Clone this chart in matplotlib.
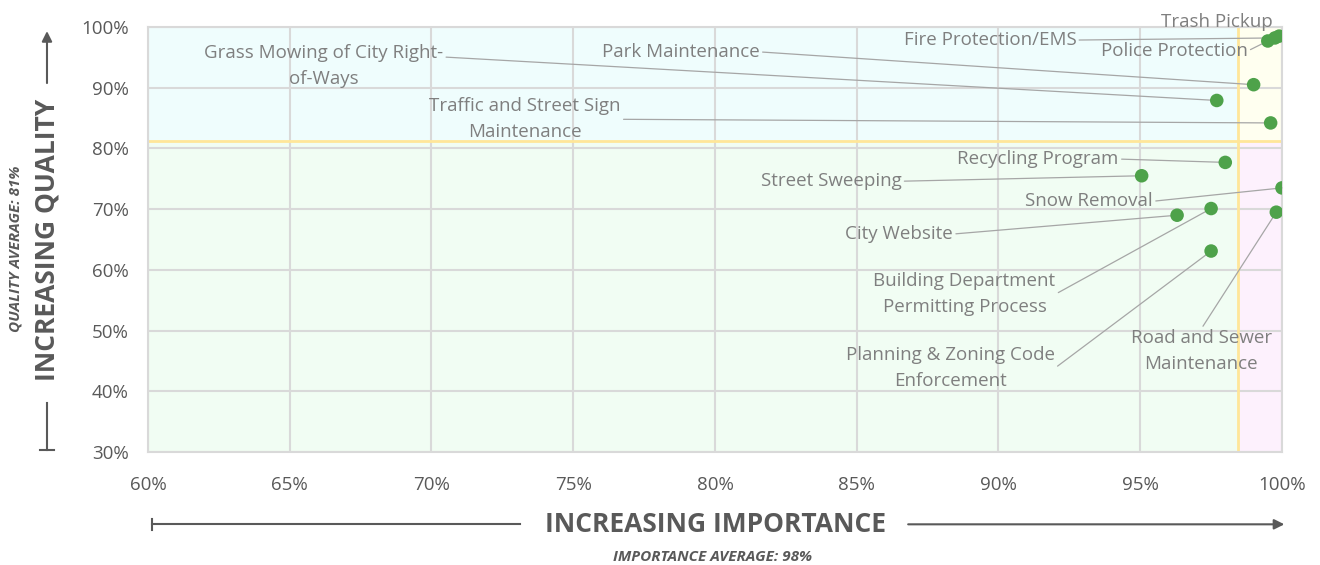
import matplotlib.pyplot as plt
from matplotlib.ticker import PercentFormatter

# data (percent)
services = ["Trash Pickup", "Fire Protection/EMS", "Police Protection", "Park Maintenance",
            "Grass Mowing of City Right-\nof-Ways", "Traffic and Street Sign\nMaintenance",
            "Recycling Program", "Street Sweeping", "Snow Removal", "City Website",
            "Building Department\nPermitting Process", "Planning & Zoning Code\nEnforcement",
            "Road and Sewer\nMaintenance"]
importance = [99.9, 99.75, 99.5, 99.0, 97.7, 99.6, 98.0, 95.05, 100.0, 96.3, 97.5, 97.5, 99.8]
quality = [98.5, 98.2, 97.7, 90.5, 87.9, 84.2, 77.7, 75.5, 73.5, 69.0, 70.1, 63.1, 69.5]

importance_avg = 98.45
quality_avg = 81.2

x_ticks = [60, 65, 70, 75, 80, 85, 90, 95, 100]
y_ticks = [30, 40, 50, 60, 70, 80, 90, 100]

# label placement (text position, attach point on text, leader line on/off)
label_pos = [(97.7, 100.8), (89.7, 97.85), (96.2, 96.05), (78.8, 95.9), (66.2, 93.6),
             (73.3, 84.8), (91.4, 78.25), (84.1, 74.6), (93.2, 71.3), (86.5, 65.9),
             (88.8, 56.0), (88.3, 43.8), (97.15, 46.6)]
label_rel = [None, (1, 0.5), (1, 0.5), (1, 0.5), (1, 0.7), (1, 0.5), (1, 0.5), (1, 0.5),
             (1, 0.5), (1, 0.5), (1, 0.5), (1, 0.5), (0.5, 1)]

plt.rcParams["font.family"] = ["Open Sans", "DejaVu Sans"]

fig = plt.figure(figsize=(13.2, 5.65), dpi=100)
ax = fig.add_axes([0.1121, 0.2, 0.8591, 0.7522])

x0, x1 = 60, 100
y0, y1 = 30, 100
ax.set_xlim(x0, x1)
ax.set_ylim(y0, y1)

# quadrant backgrounds
ax.fill_between([x0, importance_avg], quality_avg, y1, color="#effdfd", zorder=0, lw=0)
ax.fill_between([importance_avg, x1], quality_avg, y1, color="#fffff0", zorder=0, lw=0)
ax.fill_between([x0, importance_avg], y0, quality_avg, color="#f1fdf3", zorder=0, lw=0)
ax.fill_between([importance_avg, x1], y0, quality_avg, color="#fdf1fd", zorder=0, lw=0)

ax.set_xticks(x_ticks)
ax.set_yticks(y_ticks)
ax.grid(True, color="#d9d9d9", lw=1.5, zorder=1)
ax.set_axisbelow(True)
for s in ax.spines.values():
    s.set_color("#d9d9d9")
    s.set_linewidth(1.5)
ax.xaxis.set_major_formatter(PercentFormatter(decimals=0))
ax.yaxis.set_major_formatter(PercentFormatter(decimals=0))
ax.tick_params(length=0, labelsize=13.5, labelcolor="#595959")
ax.tick_params(axis="x", pad=17)
ax.tick_params(axis="y", pad=14)

ax.axhline(quality_avg, color="#ffe699", lw=2, zorder=2)
ax.axvline(importance_avg, color="#ffe699", lw=2, zorder=2)

ax.scatter(importance, quality, s=95, color="#4ea24a", zorder=5, edgecolors="none")

for name, xi, yi, pos, rel in zip(services, importance, quality, label_pos, label_rel):
    if rel is None:
        ax.annotate(name, xy=(xi, yi), xytext=pos, ha="center", va="center",
                    fontsize=13.5, color="#7f7f7f", annotation_clip=False)
    else:
        ax.annotate(name, xy=(xi, yi), xytext=pos, ha="center", va="center",
                    fontsize=13.5, color="#7f7f7f", linespacing=1.6, annotation_clip=False,
                    arrowprops=dict(arrowstyle="-", color="#a6a6a6", lw=0.9,
                                    relpos=rel, shrinkA=0, shrinkB=0))

# axis titles with arrows
grey = "#595959"
fig.text(0.5417, 0.072, "INCREASING IMPORTANCE", ha="center", va="center",
         fontsize=19, fontweight="bold", color=grey)
fig.text(0.5394, 0.014, "IMPORTANCE AVERAGE: 98%", ha="center", va="center",
         fontsize=11, fontweight="bold", style="italic", color=grey)
fig.add_artist(plt.Line2D([0.115, 0.394], [0.072, 0.072], color=grey, lw=1.5))
fig.add_artist(plt.Line2D([0.115, 0.115], [0.062, 0.082], color=grey, lw=1.5))
ax.annotate("", xy=(0.973, 0.072), xytext=(0.688, 0.072), xycoords="figure fraction",
            textcoords="figure fraction",
            arrowprops=dict(arrowstyle="-|>", color=grey, lw=1.5, mutation_scale=15,
                            shrinkA=0, shrinkB=0))

fig.text(0.0356, 0.575, "INCREASING QUALITY", ha="center", va="center", rotation=90,
         fontsize=19, fontweight="bold", color=grey)
fig.text(0.0114, 0.56, "QUALITY AVERAGE: 81%", ha="center", va="center", rotation=90,
         fontsize=11, fontweight="bold", style="italic", color=grey)
ax.annotate("", xy=(0.0356, 0.945), xytext=(0.0356, 0.853), xycoords="figure fraction",
            textcoords="figure fraction",
            arrowprops=dict(arrowstyle="-|>", color=grey, lw=1.5, mutation_scale=15,
                            shrinkA=0, shrinkB=0))
fig.add_artist(plt.Line2D([0.0356, 0.0356], [0.203, 0.287], color=grey, lw=1.5))
fig.add_artist(plt.Line2D([0.0306, 0.0406], [0.203, 0.203], color=grey, lw=1.5))

fig.savefig("out.png", dpi=100)
